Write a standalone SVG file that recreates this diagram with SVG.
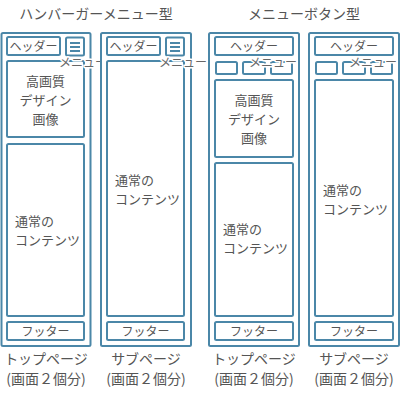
<svg xmlns="http://www.w3.org/2000/svg" width="400" height="400" viewBox="0 0 400 400">
<style>
.box{fill:#fff;stroke:#4b87a8;stroke-width:2}
.ln{stroke:#4b87a8;stroke-width:2}
text{font-family:"Noto Sans CJK JP","Noto Sans",sans-serif;fill:#555}
.t14{font-size:14px;text-anchor:middle}
.t12{font-size:12px;text-anchor:middle}
.t13{font-size:13px}
.c13{font-size:13px;text-anchor:middle}
.menu{font-size:12px;text-anchor:middle;fill:#666;stroke:#fff;stroke-width:3;paint-order:stroke;stroke-linejoin:round}
</style>
<rect width="400" height="400" fill="#fff"/>
<text class="t14" x="96" y="19">ハンバーガーメニュー型</text>
<text class="t14" x="304" y="19">メニューボタン型</text>

<g id="top-hamburger">
<rect class="box" x="1.5" y="33" width="89" height="313" rx="1.5"/>
<rect class="box" x="7" y="37" width="53" height="18" rx="1.5"/>
<text class="t12" x="33.5" y="50.5">ヘッダー</text>
<rect class="box" x="66" y="37.5" width="18" height="18" rx="1.5"/>
<path class="ln" d="M70 43H80M70 47H80M70 51H80"/>
<rect class="box" x="7" y="61" width="77" height="76" rx="1.5"/>
<text class="c13" x="45.5" y="86">高画質</text>
<text class="c13" x="45.5" y="105">デザイン</text>
<text class="c13" x="45.5" y="124">画像</text>
<rect class="box" x="7" y="144" width="77" height="172" rx="1.5"/>
<text class="t13" x="15" y="226">通常の</text>
<text class="t13" x="15" y="245">コンテンツ</text>
<rect class="box" x="7" y="322" width="77" height="18" rx="1.5"/>
<text class="t12" x="45.5" y="335.5">フッター</text>
<text class="menu" x="83" y="67">メニュー</text>
<text class="t14" x="46" y="364">トップページ</text>
<text class="t14" x="46" y="384">(画面２個分)</text>
</g>

<g id="sub-hamburger">
<rect class="box" x="101" y="33" width="90" height="313" rx="1.5"/>
<rect class="box" x="107" y="37" width="53" height="18" rx="1.5"/>
<text class="t12" x="133.5" y="50.5">ヘッダー</text>
<rect class="box" x="166" y="37.5" width="18" height="18" rx="1.5"/>
<path class="ln" d="M170 43H180M170 47H180M170 51H180"/>
<rect class="box" x="107" y="61" width="77" height="255" rx="1.5"/>
<text class="t13" x="115" y="185">通常の</text>
<text class="t13" x="115" y="204">コンテンツ</text>
<rect class="box" x="107" y="322" width="77" height="18" rx="1.5"/>
<text class="t12" x="145.5" y="335.5">フッター</text>
<text class="menu" x="183" y="67">メニュー</text>
<text class="t14" x="146" y="364">サブページ</text>
<text class="t14" x="146" y="384">(画面２個分)</text>
</g>

<g id="top-button">
<rect class="box" x="209" y="33" width="90" height="313" rx="1.5"/>
<rect class="box" x="215" y="37" width="78" height="18" rx="1.5"/>
<text class="t12" x="254" y="50.5">ヘッダー</text>
<rect class="box" x="216" y="62" width="21" height="12" rx="1.5"/>
<rect class="box" x="243" y="62" width="22" height="12" rx="1.5"/>
<rect class="box" x="271" y="62" width="21" height="12" rx="1.5"/>
<text class="menu" x="273" y="67">メニュー</text>
<rect class="box" x="215" y="80" width="78" height="77" rx="1.5"/>
<text class="c13" x="254" y="105">高画質</text>
<text class="c13" x="254" y="124">デザイン</text>
<text class="c13" x="254" y="143">画像</text>
<rect class="box" x="215" y="163" width="78" height="153" rx="1.5"/>
<text class="t13" x="223" y="234">通常の</text>
<text class="t13" x="223" y="253">コンテンツ</text>
<rect class="box" x="215" y="322" width="78" height="18" rx="1.5"/>
<text class="t12" x="254" y="335.5">フッター</text>
<text class="t14" x="254" y="364">トップページ</text>
<text class="t14" x="254" y="384">(画面２個分)</text>
</g>

<g id="sub-button">
<rect class="box" x="309" y="33" width="90" height="313" rx="1.5"/>
<rect class="box" x="315" y="37" width="78" height="18" rx="1.5"/>
<text class="t12" x="354" y="50.5">ヘッダー</text>
<rect class="box" x="316" y="62" width="21" height="12" rx="1.5"/>
<rect class="box" x="343" y="62" width="22" height="12" rx="1.5"/>
<rect class="box" x="371" y="62" width="21" height="12" rx="1.5"/>
<text class="menu" x="373" y="67">メニュー</text>
<rect class="box" x="315" y="80" width="78" height="236" rx="1.5"/>
<text class="t13" x="323" y="195">通常の</text>
<text class="t13" x="323" y="214">コンテンツ</text>
<rect class="box" x="315" y="322" width="78" height="18" rx="1.5"/>
<text class="t12" x="354" y="335.5">フッター</text>
<text class="t14" x="354" y="364">サブページ</text>
<text class="t14" x="354" y="384">(画面２個分)</text>
</g>
</svg>
